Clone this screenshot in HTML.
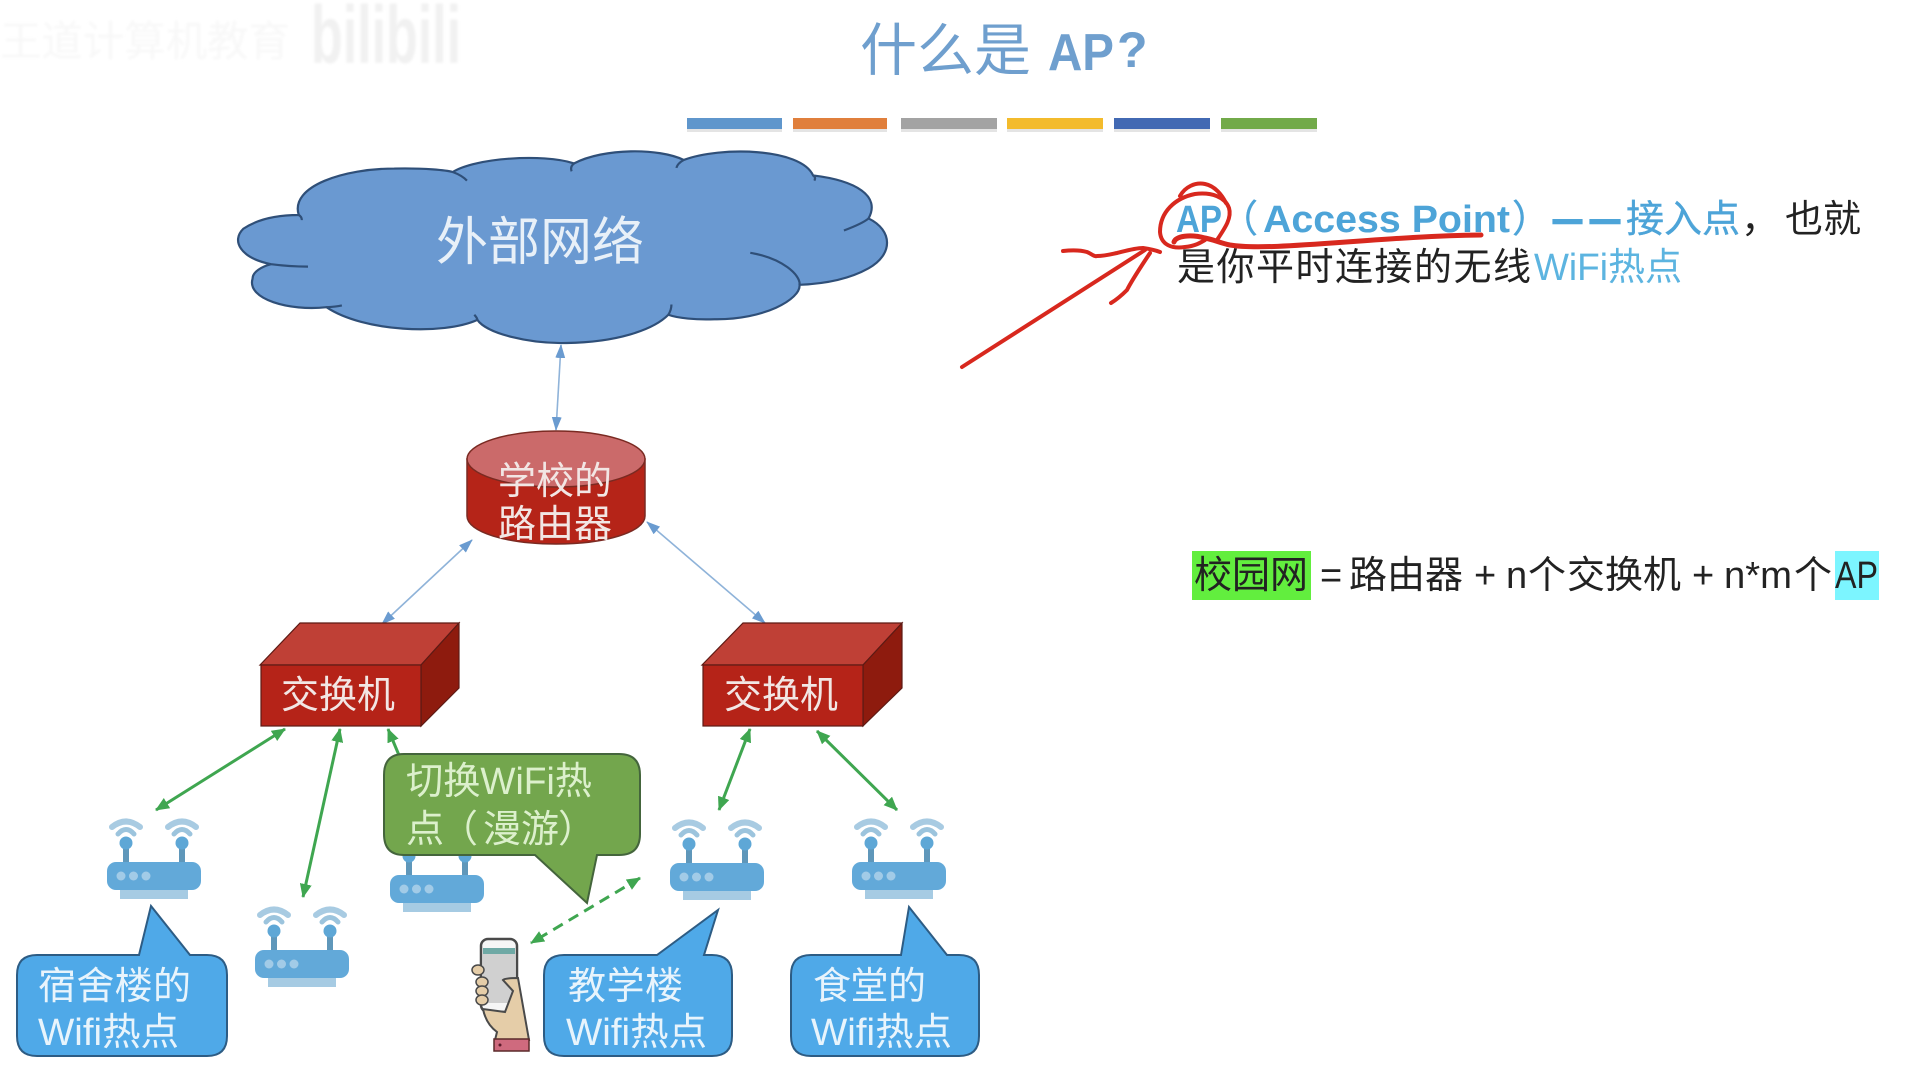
<!DOCTYPE html>
<html lang="zh">
<head>
<meta charset="utf-8">
<title>什么是 AP？</title>
<style>
html,body{margin:0;padding:0;background:#fff;width:1932px;height:1079px;overflow:hidden}
svg{display:block}
text{font-family:"Liberation Sans","Noto Sans CJK SC",sans-serif}
.w{fill:#f2e6e4}
.b{fill:#e8f4fc;font-size:38px}
.g{fill:#dcf0cc;font-size:38px}
.k{fill:#222;font-size:38px}
.a{fill:#4da4d8;font-size:38px;font-weight:bold}
.n{fill:#4da4d8;font-size:38px;stroke:#4da4d8;stroke-width:.4px}
.ns{vector-effect:non-scaling-stroke}
</style>
</head>
<body>
<svg width="1932" height="1079" viewBox="0 0 1932 1079" xmlns="http://www.w3.org/2000/svg">
<defs>
<filter id="bl" x="-5%" y="-20%" width="110%" height="140%"><feGaussianBlur stdDeviation="1.2"/></filter>
<marker id="ab" viewBox="0 0 14 10" refX="13" refY="5" markerUnits="userSpaceOnUse" markerWidth="14" markerHeight="10" orient="auto-start-reverse"><path d="M0,0L14,5L0,10Z" fill="#6a9bd0"/></marker>
<marker id="ag" viewBox="0 0 14 12" refX="13" refY="6" markerUnits="userSpaceOnUse" markerWidth="14" markerHeight="12" orient="auto-start-reverse"><path d="M0,0L14,6L0,12Z" fill="#3fa650"/></marker>
<g id="router">
<rect x="13" y="26" width="68" height="11" fill="#a6cbe3"/>
<g fill="none" stroke-linecap="round">
<path d="M19,2V-18M75,2V-18" stroke="#5f97ba" stroke-width="6" stroke-linecap="butt"/>
<circle cx="19" cy="-19" r="6.5" fill="#5ea7d6"/><circle cx="75" cy="-19" r="6.5" fill="#5ea7d6"/>
<path d="M11,-28Q19,-37 27,-28M67,-28Q75,-37 83,-28" stroke="#9cc4dd" stroke-width="5"/>
<path d="M5,-35Q19,-46 33,-35M61,-35Q75,-46 89,-35" stroke="#a8cbe2" stroke-width="6"/>
</g>
<rect x="0" y="0" width="94" height="28" rx="9" fill="#62a9d9"/>
<circle cx="14" cy="14" r="4.5" fill="#a2cbe7"/><circle cx="26.500" cy="14" r="4.500" fill="#a2cbe7"/><circle cx="39" cy="14" r="4.500" fill="#a2cbe7"/>
</g>
</defs>

<!-- watermark -->
<text x="0" y="56" font-size="42" fill="#f8f8f8" textLength="290" lengthAdjust="spacingAndGlyphs" filter="url(#bl)">王道计算机教育</text>
<text x="311" y="63" font-size="82" font-weight="bold" fill="#f1f1f1" textLength="150" lengthAdjust="spacingAndGlyphs" filter="url(#bl)">bilibili</text>

<!-- title -->
<text x="860" y="70" font-size="57" fill="#6f9fce">什么是</text>
<text x="1048" y="70" font-size="52" font-weight="bold" fill="#6f9fce" textLength="66" lengthAdjust="spacingAndGlyphs">AP</text>
<text x="1117" y="67" font-size="50" font-weight="bold" fill="#6f9fce">?</text>

<!-- colour bars -->
<g>
<rect x="687" y="121" width="95" height="11" fill="#e4e4e4"/><rect x="793" y="121" width="94" height="11" fill="#e4e4e4"/><rect x="901" y="121" width="96" height="11" fill="#e4e4e4"/><rect x="1007" y="121" width="96" height="11" fill="#e4e4e4"/><rect x="1114" y="121" width="96" height="11" fill="#e4e4e4"/><rect x="1221" y="121" width="96" height="11" fill="#e4e4e4"/>
<rect x="687" y="118" width="95" height="11" fill="#5f96cc"/>
<rect x="793" y="118" width="94" height="11" fill="#e07f3c"/>
<rect x="901" y="118" width="96" height="11" fill="#a3a3a3"/>
<rect x="1007" y="118" width="96" height="11" fill="#f3bb2c"/>
<rect x="1114" y="118" width="96" height="11" fill="#4269b3"/>
<rect x="1221" y="118" width="96" height="11" fill="#72aa4a"/>
</g>

<!-- cloud -->
<g transform="matrix(.616 0 0 .344 0 0)" stroke="#2f4f78" stroke-width="2.2">
<path class="ns" fill="#6a99d1" d="M485,625C470,540 560,490 640,490C690,488 725,495 735,500C770,460 880,445 932,475C980,430 1070,430 1110,465C1170,425 1300,430 1320,510C1390,525 1430,570 1410,635C1450,670 1450,740 1410,780C1380,810 1340,825 1298,828C1300,870 1240,930 1160,928C1130,930 1100,925 1085,915C1060,960 1000,995 920,997C860,1000 790,970 775,930C720,975 590,965 530,893C470,905 400,870 410,810C410,790 425,775 440,768C390,750 375,700 395,665C420,635 450,625 485,625Z"/>
<path class="ns" fill="none" d="M735,500Q750,510 758,525M932,475Q925,485 928,498M1110,465Q1100,475 1098,488M1320,510Q1325,515 1322,525M1410,635Q1400,650 1370,670M1298,828C1300,800 1270,750 1218,735M1085,915Q1090,900 1090,885M775,930Q775,925 770,915M530,893Q545,892 555,888M440,768Q470,775 500,775M485,625Q490,630 490,640"/>
</g>
<text x="436" y="260" font-size="52" fill="#e8f0f8">外部网络</text>

<!-- blue connectors -->
<g stroke="#8fb3d9" stroke-width="1.6" fill="none" marker-start="url(#ab)" marker-end="url(#ab)">
<line x1="561" y1="345" x2="556" y2="430"/>
<line x1="472" y1="540" x2="382" y2="624"/>
<line x1="647" y1="522" x2="765" y2="623"/>
</g>

<!-- router cylinder -->
<path d="M467,459V516C467,532 507,544 556,544C605,544 645,532 645,516V459Z" fill="#b52418" stroke="#7a2a22" stroke-width="1.500"/>
<ellipse cx="556" cy="459" rx="89" ry="28" fill="#cb6a6a" stroke="#7a2a22" stroke-width="1.500"/>
<text x="498" y="494" font-size="38" class="w">学校的</text>
<text x="498" y="537" font-size="38" class="w">路由器</text>

<!-- switches -->
<g stroke="#5d1a14" stroke-width="1.200">
<path d="M260,665L300,623H459L421,665Z" fill="#bf4036"/>
<path d="M421,665L459,623V688L421,726Z" fill="#8e1b0e"/>
<rect x="261" y="665" width="160" height="61" fill="#b52318"/>
<path d="M702,665L743,623H902L863,665Z" fill="#bf4036"/>
<path d="M863,665L902,623V688L863,726Z" fill="#8e1b0e"/>
<rect x="703" y="665" width="160" height="61" fill="#b52318"/>
</g>
<text x="281" y="708" font-size="38" class="w">交换机</text>
<text x="724" y="708" font-size="38" class="w">交换机</text>

<!-- routers -->
<use href="#router" x="107" y="862"/>
<use href="#router" x="255" y="950"/>
<use href="#router" x="390" y="875"/>
<use href="#router" x="670" y="863"/>
<use href="#router" x="852" y="862"/>

<!-- green connectors -->
<g stroke="#3fa650" stroke-width="3" fill="none" marker-start="url(#ag)" marker-end="url(#ag)">
<line x1="285" y1="729" x2="156" y2="810"/>
<line x1="340" y1="729" x2="303" y2="897"/>
<line x1="750" y1="729" x2="719" y2="810"/>
<line x1="817" y1="731" x2="897" y2="810"/>
<line x1="640" y1="878" x2="531" y2="943" stroke-dasharray="11 7"/>
</g>
<line x1="388" y1="729" x2="401" y2="760" stroke="#3fa650" stroke-width="3" marker-start="url(#ag)"/>

<!-- green bubble -->
<path d="M404,754H619Q640,754 640,775V834Q640,855 619,855H597L587,903L535,855H404Q384,855 384,834V775Q384,754 404,754Z" fill="#73a64d" stroke="#44653c" stroke-width="2"/>
<text x="406" y="794" class="g" textLength="186" lengthAdjust="spacingAndGlyphs">切换WiFi热</text>
<text x="406" y="842" class="g">点</text>
<text x="440" y="842" class="g">（</text>
<text x="483" y="842" class="g">漫</text>
<text x="521" y="842" class="g">游</text>
<text x="558" y="842" class="g">）</text>

<!-- blue bubbles -->
<g fill="#4fa9e8" stroke="#2d5c84" stroke-width="2">
<path d="M37,955H139L151,906L190,955H207Q227,955 227,975V1036Q227,1056 207,1056H37Q17,1056 17,1036V975Q17,955 37,955Z"/>
<path d="M564,955H657L718,910L704,955H712Q732,955 732,975V1036Q732,1056 712,1056H564Q544,1056 544,1036V975Q544,955 564,955Z"/>
<path d="M811,955H901L909,907L947,955H959Q979,955 979,975V1036Q979,1056 959,1056H811Q791,1056 791,1036V975Q791,955 811,955Z"/>
</g>
<text x="38" y="999" class="b" textLength="153" lengthAdjust="spacing">宿舍楼的</text>
<text x="38" y="1045" class="b" textLength="141" lengthAdjust="spacingAndGlyphs">Wifi热点</text>
<text x="568" y="999" class="b" textLength="115" lengthAdjust="spacing">教学楼</text>
<text x="566" y="1045" class="b" textLength="141" lengthAdjust="spacingAndGlyphs">Wifi热点</text>
<text x="813" y="999" class="b" textLength="113" lengthAdjust="spacing">食堂的</text>
<text x="811" y="1045" class="b" textLength="141" lengthAdjust="spacingAndGlyphs">Wifi热点</text>

<!-- phone in hand -->
<rect x="481" y="939" width="36" height="73" rx="7" fill="#f6f6f6" stroke="#4a4a4a" stroke-width="2.500"/>
<rect x="483" y="948" width="32" height="55" fill="#d0d0d0"/>
<rect x="483" y="948" width="32" height="6" fill="#6fa9a5"/>
<path d="M503,980Q505,978 518,978L529,1040H495L497,1032Q486,1024 483,1009L505,1012L513,991Z" fill="#e5cda8" stroke="#4a4a4a" stroke-width="2"/>
<g fill="#e5cda8" stroke="#4a4a4a" stroke-width="1.500">
<ellipse cx="478" cy="970" rx="6" ry="5"/><ellipse cx="482" cy="982" rx="6" ry="5"/><ellipse cx="482" cy="991" rx="6" ry="5"/><ellipse cx="482" cy="1000" rx="6" ry="5"/>
</g>
<rect x="494" y="1039" width="35" height="12" fill="#cf6a7e" stroke="#5a2a2a" stroke-width="1.500"/>
<circle cx="500" cy="1045" r="1.500" fill="#5a1a2a"/>

<!-- right text -->
<text x="1176" y="232" class="a" textLength="46" lengthAdjust="spacingAndGlyphs">AP</text>
<text x="1220" y="232" class="n">（</text>
<text x="1263" y="232" class="a" textLength="247" lengthAdjust="spacingAndGlyphs">Access Point</text>
<text x="1512" y="232" class="n">）</text>
<text x="1553" y="232" class="a" stroke="#4da4d8" stroke-width="1.500" textLength="29" lengthAdjust="spacingAndGlyphs">—</text>
<text x="1590" y="232" class="a" stroke="#4da4d8" stroke-width="1.500" textLength="30" lengthAdjust="spacingAndGlyphs">—</text>
<text x="1626" y="232" class="n">接入点</text>
<text x="1741" y="232" class="k">，</text>
<text x="1785" y="232" class="k">也就</text>
<text x="1177" y="280" class="k" textLength="354" lengthAdjust="spacing">是你平时连接的无线</text>
<text x="1534" y="280" font-size="38" fill="#5cb4e0" textLength="148" lengthAdjust="spacingAndGlyphs">WiFi热点</text>

<rect x="1192" y="551" width="119" height="49" fill="#62ee3e"/>
<rect x="1835" y="551" width="44" height="49" fill="#7cf5ff"/>
<g>
<text x="1194" y="588" class="k" textLength="114" lengthAdjust="spacing">校园网</text>
<text x="1320" y="588" class="k">=</text>
<text x="1349" y="588" class="k" textLength="114" lengthAdjust="spacing">路由器</text>
<text x="1474" y="588" class="k">+</text>
<text x="1506" y="588" class="k">n</text>
<text x="1528" y="588" class="k">个</text>
<text x="1567" y="588" class="k" textLength="114" lengthAdjust="spacing">交换机</text>
<text x="1692" y="588" class="k">+</text>
<text x="1724" y="588" class="k" textLength="68" lengthAdjust="spacingAndGlyphs">n*m</text>
<text x="1794" y="588" class="k">个</text>
<text x="1835" y="588" class="k" textLength="43" lengthAdjust="spacingAndGlyphs">AP</text>
</g>

<!-- red ink -->
<g fill="none" stroke="#d8281e" stroke-width="4" stroke-linecap="round" stroke-linejoin="round">
<path d="M1217,240C1225,228 1232,218 1229,208C1225,197 1212,192 1195,194C1175,198 1160,212 1160,232C1161,245 1172,249 1185,247C1195,246 1200,243 1205,240"/>
<path d="M1180,196C1185,187 1195,182 1205,184C1215,186 1222,195 1226,203"/>
<path stroke-width="5" d="M1174,242C1176,236 1190,234 1205,238C1215,240 1220,243 1230,245C1270,252 1380,236 1481,235"/>
<path d="M962,367L1145,250"/>
<path d="M1063,251C1072,250 1080,250 1087,252C1092,254 1094,257 1097,256C1105,256 1112,254 1117,253C1125,251 1135,248 1143,248C1150,249 1155,250 1160,252"/>
<path d="M1150,253C1140,268 1132,280 1127,290C1121,296 1116,300 1111,303"/>
</g>
</svg>
</body>
</html>
